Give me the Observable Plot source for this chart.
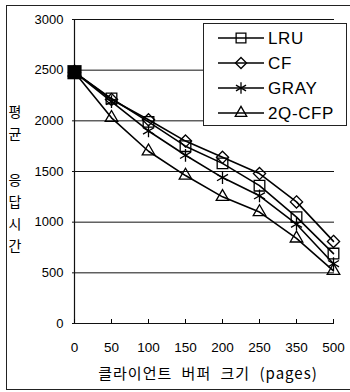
<!DOCTYPE html>
<html><head><meta charset="utf-8">
<script src="https://cdn.jsdelivr.net/npm/d3@7"></script>
<script src="https://cdn.jsdelivr.net/npm/@observablehq/plot@0.6"></script>
<style>
body{margin:0;background:#fff;}
#wrap{position:relative;width:350px;height:392px;overflow:hidden;font-family:"Liberation Sans",Arial,sans-serif;background:#fff;}
#frame{position:absolute;left:6px;top:5px;width:400px;height:385px;border:1px solid #222;box-sizing:border-box;}
#chart{position:absolute;left:0;top:0;}
#ylab{position:absolute;left:5px;width:20px;font-family:"Noto Sans CJK KR",sans-serif;font-size:14px;color:#000;text-align:center;}
#ylab div{height:22px;line-height:22px;}
#xlab{position:absolute;left:0;width:416px;top:362px;text-align:center;font-family:"Noto Sans CJK KR",sans-serif;font-size:15px;letter-spacing:1px;word-spacing:5px;color:#000;}
#legend{position:absolute;left:203px;top:23px;width:144px;height:103px;border:1px solid #222;box-sizing:border-box;background:#fff;}
</style></head>
<body>
<div id="wrap">
  <div id="frame"></div>
  <div id="chart"></div>
  <div id="ylab"></div>
  <div id="xlab">클라이언트 버퍼 크기 (pages)</div>
  <div id="legend"></div>
</div>
<script>
const cats = ["0","50","100","150","200","250","350","500"];
const lru   = [2480,2220,1990,1750,1580,1360,1050,690];
const cf    = [2480,2210,2010,1800,1640,1480,1200,810];
const gray  = [2480,2190,1900,1660,1440,1260,980,590];
const q2cfp = [2480,2030,1700,1460,1250,1100,840,520];
const seriesNames = ["LRU","CF","GRAY","2Q-CFP"];
const seriesSymbols = ["square","diamond2","asterisk","triangle2"];
const yTicks = [0,500,1000,1500,2000,2500,3000];
const yLabelParts = ["평균","응답시간"];

const seriesVals = [lru, cf, gray, q2cfp];
const data = [];
seriesNames.forEach((s, si) => cats.forEach((c, i) => data.push({series: s, x: c, y: seriesVals[si][i]})));

const dotMarks = seriesNames.map((s, si) =>
  Plot.dot(data.filter(d => d.series === s), {x: "x", y: "y", symbol: seriesSymbols[si], r: si === 1 ? 5.5 : 6, fill: "none", stroke: "#000", strokeWidth: 1.3})
);

const chart = Plot.plot({
  width: 350, height: 392,
  marginLeft: 72, marginRight: 16, marginTop: 19, marginBottom: 69,
  style: {fontFamily: "Liberation Sans, Arial, sans-serif", fontSize: "13px", color: "#000", background: "transparent", overflow: "visible"},
  x: {type: "point", domain: cats, padding: 0, label: null},
  y: {domain: [0, 3000], label: null},
  marks: [
    Plot.ruleY(yTicks, {stroke: "#111", strokeWidth: 1}),
    Plot.ruleX([cats[0]], {stroke: "#111", strokeWidth: 1.2}),
    Plot.axisY({ticks: yTicks, tickSize: 0, tickPadding: 9, label: null, fontSize: 13, tickFormat: d3.format("d")}),
    Plot.axisX({tickSize: -4, tickFormat: () => "", label: null}),
    Plot.axisX({tickSize: 0, tickPadding: 19, label: null, fontSize: 13.5}),
    Plot.line(data, {x: "x", y: "y", z: "series", stroke: "#000", strokeWidth: 1.6}),
    ...dotMarks,
    Plot.dot(data.filter(d => d.x === cats[0] && d.series === seriesNames[0]), {x: "x", y: "y", symbol: "square", r: 8, fill: "#000"})
  ]
});
document.getElementById("chart").appendChild(chart);

// Y label (stacked upright characters)
const ylab = document.getElementById("ylab");
ylab.style.top = "100px";
yLabelParts.forEach((part, pi) => {
  if (pi > 0) { const sp = document.createElement("div"); sp.style.height = "24px"; ylab.appendChild(sp); }
  for (const ch of part) { const d = document.createElement("div"); d.textContent = ch; ylab.appendChild(d); }
});

// Legend
const lg = d3.select("#legend").append("svg").attr("width", 142).attr("height", 101);
const symMap = {square: d3.symbolSquare, diamond2: d3.symbolDiamond2, asterisk: d3.symbolAsterisk, triangle2: d3.symbolTriangle2};
seriesNames.forEach((s, i) => {
  const cy = 14 + i * 25;
  const g = lg.append("g").attr("transform", `translate(0,${cy})`);
  g.append("line").attr("x1", 14).attr("x2", 60).attr("y1", 0).attr("y2", 0).attr("stroke", "#000").attr("stroke-width", 1.6);
  const r = i === 1 ? 5 : 5.5;
  g.append("path").attr("transform", "translate(37,0)").attr("d", d3.symbol(symMap[seriesSymbols[i]], Math.PI * r * r)())
    .attr("fill", "none").attr("stroke", "#000").attr("stroke-width", 1.3);
  g.append("text").attr("x", 64).attr("y", 0).attr("dy", "0.36em").attr("font-size", 17).attr("letter-spacing", 0.6)
    .attr("font-family", "Liberation Sans, Arial, sans-serif").text(s);
});
</script>
</body></html>
